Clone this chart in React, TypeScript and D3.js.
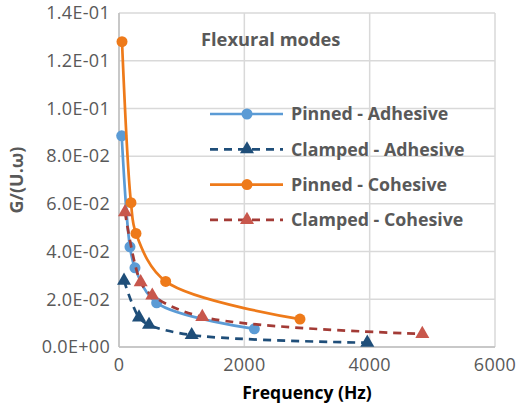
import React from "react";
import * as d3 from "d3";

// frequency (Hz) and G/(U.w)
const pinnedAdhFreq = [43, 175, 255, 601, 2160];
const pinnedAdhVal = [0.0885, 0.042, 0.0332, 0.0185, 0.0076];
const clampedAdhFreq = [80, 319, 479, 1160, 3962];
const clampedAdhVal = [0.0278, 0.0124, 0.0093, 0.005, 0.0018];
const pinnedCohFreq = [48, 191, 271, 745, 2888];
const pinnedCohVal = [0.128, 0.0605, 0.0476, 0.0275, 0.0117];
const clampedCohFreq = [96, 346, 531, 1329, 4840];
const clampedCohVal = [0.0565, 0.0272, 0.0216, 0.0126, 0.0055];

const xTicks = [0, 2000, 4000, 6000];
const yTicks = [0, 0.02, 0.04, 0.06, 0.08, 0.1, 0.12, 0.14];

const seriesNames = [
  "Pinned - Adhesive",
  "Clamped - Adhesive",
  "Pinned - Cohesive",
  "Clamped - Cohesive",
];

const W = 517;
const H = 408;
const left = 119;
const right = 495;
const top = 13;
const bottom = 347;
const font = "'Open Sans', sans-serif";

export default function App() {
  const x = d3.scaleLinear().domain([0, 6000]).range([left, right]);
  const y = d3.scaleLinear().domain([0, 0.14]).range([bottom, top]);

  const series = [
    { name: seriesNames[0], f: pinnedAdhFreq, v: pinnedAdhVal, line: "#5B9BD5", fill: "#5B9BD5", dash: null, shape: "circle" },
    { name: seriesNames[1], f: clampedAdhFreq, v: clampedAdhVal, line: "#1F4E79", fill: "#1F4E79", dash: "8,6", shape: "triangle" },
    { name: seriesNames[2], f: pinnedCohFreq, v: pinnedCohVal, line: "#EE7A1A", fill: "#EE7A1A", dash: null, shape: "circle" },
    { name: seriesNames[3], f: clampedCohFreq, v: clampedCohVal, line: "#A33B36", fill: "#C8574C", dash: "8,6", shape: "triangle" },
  ];

  const line = d3
    .line<[number, number]>()
    .x((d) => x(d[0]))
    .y((d) => y(d[1]))
    .curve(d3.curveCatmullRom.alpha(0.5));

  const tri = d3.symbol().type(d3.symbolTriangle).size(85)();

  const marker = (shape: string, cx: number, cy: number, fill: string, key: any) =>
    shape === "circle" ? (
      <circle key={key} cx={cx} cy={cy} r={5.5} fill={fill} />
    ) : (
      <path key={key} d={tri || ""} transform={`translate(${cx},${cy})`} fill={fill} />
    );

  const fmt = (v: number) => {
    if (v === 0) return "0.0E+00";
    const e = Math.floor(Math.log10(v) + 1e-9);
    const m = v / Math.pow(10, e);
    return `${m.toFixed(1)}E-${String(-e).padStart(2, "0")}`;
  };

  return (
    <div style={{ position: "absolute", left: 0, top: 0 }}>
      <svg width={W} height={H} style={{ display: "block", background: "#fff" }}>
        {/* grid */}
        {yTicks.map((t) => (
          <line key={"gy" + t} x1={left} x2={right} y1={y(t)} y2={y(t)} stroke="#D9D9D9" strokeWidth={1.5} />
        ))}
        {xTicks.map((t) => (
          <line key={"gx" + t} x1={x(t)} x2={x(t)} y1={top} y2={bottom} stroke="#D9D9D9" strokeWidth={1.5} />
        ))}
        <line x1={left} x2={left} y1={top} y2={bottom} stroke="#BFBFBF" strokeWidth={1.5} />
        <line x1={left} x2={right} y1={bottom} y2={bottom} stroke="#BFBFBF" strokeWidth={1.5} />

        {/* tick labels */}
        {yTicks.map((t) => (
          <text key={"ty" + t} x={110} y={y(t)} dy="0.35em" textAnchor="end" fontFamily={font} fontSize={18} letterSpacing={0.3} fill="#595959">
            {fmt(t)}
          </text>
        ))}
        {xTicks.map((t) => (
          <text key={"tx" + t} x={x(t)} y={365} dy="0.35em" textAnchor="middle" fontFamily={font} fontSize={18} letterSpacing={0.3} fill="#595959">
            {t}
          </text>
        ))}

        {/* axis titles */}
        <text x={307} y={393} dy="0.35em" textAnchor="middle" fontFamily={font} fontSize={17.5} fontWeight="bold" fill="#000">
          Frequency (Hz)
        </text>
        <text
          transform={`translate(17,${(top + bottom) / 2}) rotate(-90)`}
          dy="0.35em"
          textAnchor="middle"
          fontFamily={font}
          fontSize={18}
          fontWeight="bold"
          fill="#595959"
        >
          G/(U.ω)
        </text>

        {/* title */}
        <text x={201} y={40} dy="0.35em" fontFamily={font} fontSize={18.3} fontWeight="bold" fill="#595959">
          Flexural modes
        </text>

        {/* series */}
        {series.map((s) => {
          const pts = s.f.map((f, i) => [f, s.v[i]] as [number, number]);
          return (
            <g key={s.name}>
              <path d={line(pts) || ""} fill="none" stroke={s.line} strokeWidth={2.7} strokeDasharray={s.dash || undefined} />
              {pts.map((p, i) => marker(s.shape, x(p[0]), y(p[1]), s.fill, i))}
            </g>
          );
        })}

        {/* legend */}
        {series.map((s, i) => {
          const ly = 114 + i * 35.3;
          return (
            <g key={"lg" + s.name}>
              <line x1={210} x2={283} y1={ly} y2={ly} stroke={s.line} strokeWidth={2.7} strokeDasharray={s.dash || undefined} />
              {marker(s.shape, 247, ly, s.fill, "m")}
              <text x={291} y={ly} dy="0.35em" fontFamily={font} fontSize={17.8} fontWeight="bold" fill="#595959">
                {s.name}
              </text>
            </g>
          );
        })}
      </svg>
    </div>
  );
}
